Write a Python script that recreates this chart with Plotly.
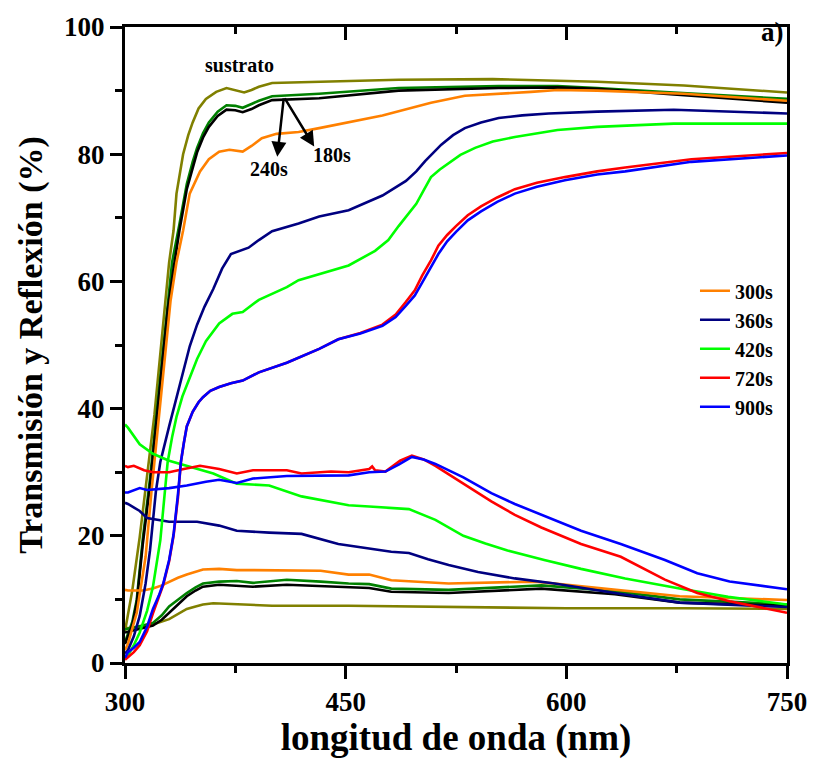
import plotly.graph_objects as go

# ---------------- data (wavelength nm, value %) ----------------
# Transmission curves
sus_T_x = [300, 305, 310, 315, 320, 325, 330, 333, 335, 339.5, 343, 346, 350, 355, 362, 369, 375, 381, 386, 391, 400, 432, 486, 550, 621, 680, 750]
sus_T_y = [5, 11.5, 19.8, 29, 39, 51, 63, 68, 73.8, 80, 83, 85, 87.2, 88.7, 89.8, 90.4, 90.0, 89.7, 90.1, 90.6, 91.2, 91.4, 91.7, 91.8, 91.4, 90.8, 89.7]

s180_T_x = [300, 305, 308, 312, 317, 321, 325, 329, 332, 337, 342, 346, 349, 353, 357, 363, 369, 375, 380, 386, 391, 400, 418, 432, 486, 554, 594, 621, 673, 750]
s180_T_y = [3.3, 6.5, 10, 19.3, 29, 38, 48, 57, 63, 69, 75.3, 78.8, 81, 83.3, 85, 86.7, 87.7, 87.6, 87.3, 87.9, 88.4, 89.1, 89.3, 89.5, 90.4, 90.7, 90.7, 90.4, 89.7, 88.7]

s240_T_x = [300, 305, 308, 312, 317, 321, 325, 329, 333, 337, 342, 346, 349, 353, 357, 363, 369, 375, 380, 386, 391, 400, 418, 432, 486, 554, 594, 621, 673, 750]
s240_T_y = [3.0, 6, 9.5, 18.5, 28, 37, 47, 55.5, 62, 68, 74.5, 78, 80.3, 82.6, 84.3, 86, 87.0, 86.9, 86.6, 87.1, 87.7, 88.5, 88.7, 88.8, 90.0, 90.4, 90.5, 90.3, 89.4, 88.1]

s300_T_x = [300, 302, 308, 314, 318, 320, 324, 328, 331, 335, 339.5, 344, 351, 357, 364, 371, 380, 386, 393, 403, 418, 432, 452, 475, 508, 531, 576, 594, 621, 680, 750]
s300_T_y = [2, 3, 7.9, 16.7, 27, 31.6, 41, 50, 57, 63, 68, 73.8, 77.3, 79.2, 80.4, 80.7, 80.4, 81.3, 82.5, 83.2, 83.5, 84.1, 85, 86.1, 88.1, 89.2, 89.8, 90.1, 90.0, 89.5, 88.4]

s360_T_x = [300, 302, 306, 310, 314, 317, 321, 324, 330, 335, 339, 344, 349, 354, 360, 366, 372, 378, 384, 391, 400, 418, 432, 452, 475, 491, 498, 504, 510, 515, 523, 531, 542, 554, 570, 588, 621, 673, 750]
s360_T_y = [1.5, 2, 4.2, 7.4, 12.5, 17.7, 27, 31.6, 37.2, 41.8, 45.5, 49.8, 53.2, 56, 58.8, 62, 64.3, 64.8, 65.3, 66.5, 67.9, 69.1, 70.2, 71.2, 73.5, 75.8, 77.3, 78.9, 80.4, 81.5, 83, 84.1, 85, 85.7, 86.1, 86.4, 86.7, 87.0, 86.4]

s420_T_x = [300, 302, 306, 310, 315, 319, 324, 327, 329, 332, 335, 339, 344, 349, 355, 364, 373, 380, 391, 410, 418, 432, 452, 470, 479, 486, 492, 498, 503, 508, 514, 520, 528, 538, 550, 565, 594, 621, 673, 750]
s420_T_y = [1.0, 1.2, 2.8, 4.8, 8.2, 12, 19.3, 27, 31.6, 35.5, 38.7, 41.9, 44.9, 47.8, 50.6, 53.4, 54.9, 55.2, 57.1, 59.1, 60.2, 61.1, 62.5, 64.8, 66.5, 68.7, 70.4, 72.2, 74.3, 76.4, 77.6, 78.6, 79.9, 81, 82, 82.7, 83.8, 84.3, 84.8, 84.8]

s720_T_x = [300, 302, 306, 310, 315, 319, 323, 326, 330, 333, 336, 338, 340, 342, 346, 350, 353, 358, 364, 372, 380, 391, 410, 432, 445, 460, 475, 484, 491, 497, 502, 508, 513, 519, 525, 533, 542, 553, 565, 580, 599, 621, 640, 685, 750]
s720_T_y = [0.5, 0.9, 1.7, 2.8, 5, 7.8, 10.2, 12.3, 16, 20, 26, 31.6, 34.6, 37.2, 39.5, 41, 41.8, 42.8, 43.4, 44, 44.4, 45.7, 47.2, 49.4, 50.9, 51.9, 53.2, 54.8, 56.8, 58.6, 60.9, 63.3, 65.6, 67.3, 68.7, 70.4, 71.8, 73.2, 74.5, 75.5, 76.4, 77.3, 77.9, 79.2, 80.2]

s900_T_x = [300, 302, 306, 310, 315, 319, 323, 326, 330, 333, 336, 338, 340, 342, 346, 350, 353, 358, 364, 372, 380, 391, 410, 432, 445, 460, 475, 484, 491, 497, 502, 508, 513, 519, 525, 533, 542, 553, 565, 580, 599, 621, 640, 685, 750]
s900_T_y = [0.8, 1.7, 2.4, 3.3, 5.7, 8.5, 10.6, 12.5, 16.2, 20.2, 26.5, 31.6, 34.6, 37.2, 39.5, 41, 41.8, 42.8, 43.4, 44, 44.4, 45.7, 47.2, 49.4, 50.9, 51.8, 53.0, 54.4, 56.2, 57.8, 59.8, 62.2, 64.3, 66.3, 67.8, 69.6, 71.0, 72.5, 73.8, 74.9, 75.9, 76.8, 77.3, 78.8, 79.8]

# Reflection curves
sus_R_x = [300, 305, 315, 322, 330, 336, 342, 348, 353, 360, 376, 400, 452, 520, 600, 680, 750]
sus_R_y = [5.5, 5.5, 5.9, 6.3, 6.9, 7.7, 8.5, 8.9, 9.2, 9.4, 9.2, 9.0, 9.0, 8.8, 8.6, 8.6, 8.5]

s180_R_x = [300, 305, 312, 319, 325, 330, 336, 342, 348, 353, 364, 376, 387, 410, 433, 452, 466, 481, 520, 583, 633, 677, 750]
s180_R_y = [5.3, 5.6, 5.9, 6.3, 7.5, 8.9, 10, 11, 11.9, 12.5, 12.8, 12.9, 12.6, 13.1, 12.8, 12.5, 12.4, 11.7, 11.5, 12.2, 11.3, 10, 9.2]

s240_R_x = [300, 305, 312, 319, 325, 330, 336, 342, 348, 353, 364, 387, 410, 452, 466, 481, 520, 583, 633, 677, 750]
s240_R_y = [4.8, 5.1, 5.4, 5.9, 6.8, 7.9, 9.2, 10.5, 11.4, 12.0, 12.3, 12.0, 12.3, 12.0, 11.8, 11.2, 11.0, 11.7, 10.8, 9.5, 9.0]

s300_R_x = [300, 302, 312, 319, 325, 330, 336, 342, 348, 353, 364, 376, 387, 410, 433, 452, 466, 481, 500, 520, 579, 633, 677, 750]
s300_R_y = [11.5, 11.4, 11.4, 11.7, 12.2, 12.8, 13.4, 13.9, 14.4, 14.7, 14.8, 14.6, 14.6, 14.6, 14.5, 13.9, 13.9, 13.0, 12.8, 12.5, 12.8, 11.5, 10.5, 9.9]

s360_R_x = [300, 302, 310, 315, 330, 349, 364, 376, 398, 420, 445, 466, 481, 493, 506, 520, 540, 565, 592, 633, 677, 750]
s360_R_y = [25.2, 25.0, 23.9, 22.8, 22.2, 22.2, 21.6, 20.8, 20.5, 20.3, 18.7, 18.0, 17.5, 17.3, 16.3, 15.4, 14.3, 13.3, 12.5, 11.0, 9.5, 8.8]

s420_R_x = [300, 302, 310, 319, 330, 342, 360, 376, 398, 420, 452, 466, 493, 511, 530, 545, 560, 585, 610, 640, 677, 710, 750]
s420_R_y = [37.5, 37.0, 34.4, 32.9, 31.8, 31.0, 29.8, 28.2, 27.9, 26.2, 24.8, 24.6, 24.2, 22.5, 20.0, 18.8, 17.7, 16.2, 14.8, 13.3, 11.7, 10.4, 9.2]

s720_R_x = [300, 302, 306, 313, 319, 330, 340, 351, 364, 376, 387, 410, 420, 440, 452, 466, 468, 470, 477, 487, 495, 503, 511, 520, 530, 549, 565, 583, 610, 637, 667, 689, 711, 750]
s720_R_y = [31.0, 30.8, 31.0, 30.3, 30.0, 30.0, 30.5, 31.0, 30.5, 29.8, 30.3, 30.3, 29.8, 30.1, 30.0, 30.5, 30.9, 30.3, 30.1, 31.8, 32.6, 32.0, 31.0, 29.7, 28.2, 25.4, 23.3, 21.3, 18.7, 16.7, 13.1, 11.0, 9.7, 7.9]

s900_R_x = [300, 302, 310, 315, 330, 342, 355, 364, 376, 387, 410, 433, 452, 466, 477, 486, 495, 503, 511, 530, 549, 565, 583, 610, 637, 667, 689, 711, 750]
s900_R_y = [26.8, 26.8, 27.5, 27.2, 27.5, 27.9, 28.5, 28.8, 28.3, 29.0, 29.4, 29.5, 29.5, 30.0, 30.1, 31.2, 32.4, 32.0, 31.3, 29.2, 26.7, 25.0, 23.3, 20.8, 18.7, 16.2, 14.1, 12.8, 11.6]

series_names = ["sustrato", "180s", "240s", "300s", "360s", "420s", "720s", "900s"]
series_colors = ["#808000", "#008000", "#000000", "#FF8000", "#000080", "#00FF00", "#FF0000", "#0000FF"]
in_legend = [False, False, False, True, True, True, True, True]
T_data = [(sus_T_x, sus_T_y), (s180_T_x, s180_T_y), (s240_T_x, s240_T_y), (s300_T_x, s300_T_y),
          (s360_T_x, s360_T_y), (s420_T_x, s420_T_y), (s720_T_x, s720_T_y), (s900_T_x, s900_T_y)]
R_data = [(sus_R_x, sus_R_y), (s180_R_x, s180_R_y), (s240_R_x, s240_R_y), (s300_R_x, s300_R_y),
          (s360_R_x, s360_R_y), (s420_R_x, s420_R_y), (s720_R_x, s720_R_y), (s900_R_x, s900_R_y)]

x_ticks = [300, 450, 600, 750]
y_ticks = [0, 20, 40, 60, 80, 100]

FONT = "Liberation Serif"
LW = 2.6

fig = go.Figure()
for name, col, leg, (tx, ty), (rx, ry) in zip(series_names, series_colors, in_legend, T_data, R_data):
    fig.add_trace(go.Scatter(x=tx, y=ty, mode="lines", name=name, legendgroup=name,
                             showlegend=leg, line=dict(color=col, width=LW)))
    fig.add_trace(go.Scatter(x=rx, y=ry, mode="lines", name=name, legendgroup=name,
                             showlegend=False, line=dict(color=col, width=LW)))

# invisible trace for top mirror axis
fig.add_trace(go.Scatter(x=[300, 750], y=[None, None], xaxis="x2", showlegend=False,
                         hoverinfo="skip", mode="lines"))

axis_font = dict(family=FONT, size=27, color="black", weight="bold")

fig.update_layout(
    width=819, height=761,
    margin=dict(l=125, r=29, t=20, b=93),
    paper_bgcolor="white", plot_bgcolor="white",
    font=dict(family=FONT, color="black"),
    xaxis=dict(range=[300, 750], tickvals=x_ticks, ticks="outside", ticklen=13, tickwidth=2.5,
               tickcolor="black", showline=True, linewidth=3, linecolor="black", mirror=True,
               showgrid=False, zeroline=False, tickfont=axis_font,
               minor=dict(dtick=75, tick0=300, ticks="outside", ticklen=7, tickwidth=2.5, tickcolor="black", showgrid=False),
               title=dict(text="longitud de onda (nm)", font=dict(family=FONT, size=37, color="black", weight="bold"), standoff=6)),
    xaxis2=dict(range=[300, 750], overlaying="x", side="top", anchor="y", tickvals=x_ticks,
                ticks="inside", ticklen=13, tickwidth=2.5, tickcolor="black", showticklabels=False,
                showline=False, showgrid=False, zeroline=False,
                minor=dict(dtick=75, tick0=300, ticks="inside", ticklen=7, tickwidth=2.5, tickcolor="black", showgrid=False)),
    yaxis=dict(range=[0, 100], tickvals=y_ticks, ticks="outside", ticklen=12, tickwidth=2.5,
               tickcolor="black", showline=True, linewidth=3, linecolor="black", mirror=True,
               showgrid=False, zeroline=False, tickfont=axis_font,
               minor=dict(dtick=10, tick0=0, ticks="outside", ticklen=7, tickwidth=2.5, tickcolor="black", showgrid=False),
               title=dict(text="Transmisión y Reflexión (%)", font=dict(family=FONT, size=34, color="black", weight="bold"), standoff=12)),
    legend=dict(x=0.861, y=0.616, xanchor="left", yanchor="top", bgcolor="rgba(0,0,0,0)",
                font=dict(family=FONT, size=20, color="black", weight="bold"), tracegroupgap=0),
    showlegend=True,
)

ann_font = dict(family=FONT, size=20, color="black", weight="bold")
fig.add_annotation(x=378, y=94.1, text="sustrato", showarrow=False, font=ann_font)
fig.add_annotation(x=398, y=77.6, text="240s", showarrow=False, font=ann_font)
fig.add_annotation(x=441, y=79.8, text="180s", showarrow=False, font=ann_font)
fig.add_annotation(x=403.5, y=79.6, ax=408, ay=89, xref="x", yref="y", axref="x", ayref="y",
                   text="", showarrow=True, arrowhead=2, arrowsize=1.2, arrowwidth=2.5, arrowcolor="black")
fig.add_annotation(x=428.6, y=81.2, ax=408, ay=89, xref="x", yref="y", axref="x", ayref="y",
                   text="", showarrow=True, arrowhead=2, arrowsize=1.2, arrowwidth=2.5, arrowcolor="black")
fig.add_annotation(x=740, y=99.2, text="a)", showarrow=False,
                   font=dict(family=FONT, size=27, color="black", weight="bold"))

fig.write_html("out.html")
